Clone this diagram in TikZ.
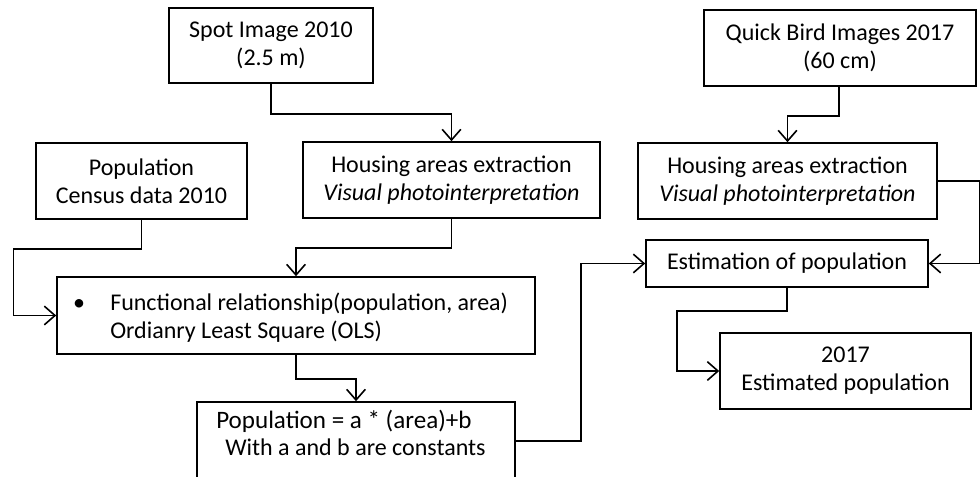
\documentclass[tikz,border=0pt]{standalone}
\usepackage{fontspec}
\setmainfont{Carlito}
\usetikzlibrary{arrows.meta,calc}
\begin{document}
\begin{tikzpicture}[x=0.75pt,y=-0.75pt,
 box/.style={draw, line width=1.2pt, inner sep=0pt, align=center, font=\fontsize{18}{21}\selectfont},
 txt/.style={inner sep=0pt, anchor=base west, font=\fontsize{18}{21}\selectfont},
 conn/.style={line width=1.2pt, -{Straight Barb[length=8pt,width=14pt,line width=1.2pt]}}]
\useasboundingbox (0,0) rectangle (980,477);
\clip (0,0) rectangle (980,477);
\node[box, minimum width=204*0.75pt, minimum height=75*0.75pt] (spot) at (271,45.5) {Spot Image 2010\\(2.5 m)};
\node[box, minimum width=272*0.75pt, minimum height=76*0.75pt] (qb) at (840,48) {Quick Bird Images 2017\\(60 cm)};
\node[box, minimum width=211*0.75pt, minimum height=76*0.75pt] (census) at (141.5,181) {Population\\Census data 2010};
\node[box, minimum width=297*0.75pt, minimum height=76*0.75pt] (house1) at (451.5,180) {Housing areas extraction\\\textit{Visual photointerpretation}};
\node[box, minimum width=299*0.75pt, minimum height=76*0.75pt] (house2) at (787.5,181) {Housing areas extraction\\\textit{Visual photointerpretation}};
\node[box, minimum width=478*0.75pt, minimum height=77*0.75pt] (func) at (296,315.5) {};
\node[txt, anchor=base] (bul) at (79,310) {\textbullet};
\node[txt] (f1) at (110,310) {Functional relationship(population, area)};
\node[txt] (f2) at (110,338) {Ordianry Least Square (OLS)};
\node[box, minimum width=282*0.75pt, minimum height=47*0.75pt] (est) at (787,263.5) {Estimation of population};
\node[box, minimum width=318*0.75pt, minimum height=88*0.75pt] (popeq) at (356,446) {};
\node[txt, font=\fontsize{18.8}{21}\selectfont] (p1) at (216,428) {Population = a * (area)+b};
\node[txt] (p2) at (225,455) {With a and b are constants};
\node[box, minimum width=251*0.75pt, minimum height=76*0.75pt] (result) at (845.5,371) {2017\\Estimated population};
\draw[conn] (spot.south) -- ++(0,30) -| (house1.north);
\draw[conn] (census.south) -- ++(0,29) -- ++(-128,0) |- (func.west);
\draw[conn] (house1.south) -- ++(0,29) -| (func.north);
\draw[conn] (func.south) -- ++(0,24) -| (popeq.north);
\draw[conn] ($(popeq.east)+(0,-5)$) -- ++(65,0) |- (est.west);
\draw[conn] ($(qb.south)+(-1,0)$) -- ++(0,29) -| (house2.north);
\draw[conn] (house2.east) -- ++(42,0) |- (est.east);
\draw[conn] (est.south) -- ++(0,23) -- ++(-110,0) |- (result.west);
\end{tikzpicture}
\end{document}
